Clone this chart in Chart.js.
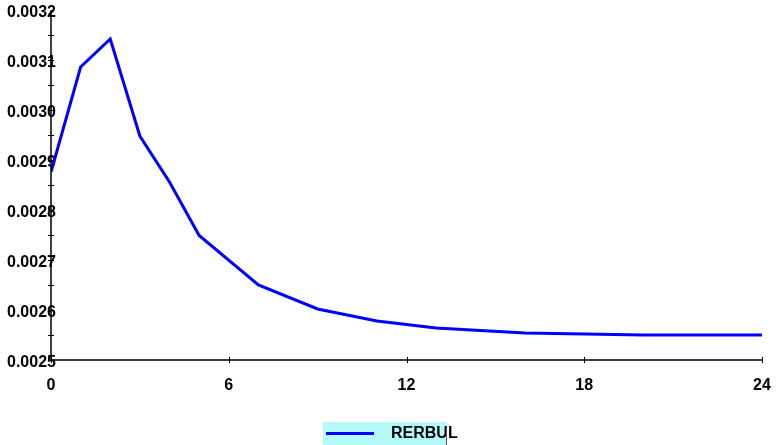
<!DOCTYPE html>
<html>
<head>
<meta charset="utf-8">
<script src="https://cdn.jsdelivr.net/npm/chart.js@4"></script>
<style>
  html, body { margin: 0; padding: 0; background: #ffffff; }
  #wrap { width: 776px; height: 445px; position: relative; }
</style>
</head>
<body>
<div id="wrap"><canvas id="c" width="776" height="445"></canvas></div>
<script>
const seriesName = "RERBUL";
const xValues = [0, 1, 2, 3, 4, 5, 7, 9, 11, 13, 16, 20, 24];
const yValues = [0.002876, 0.003086, 0.003142, 0.002948, 0.002856, 0.002749, 0.00265, 0.002602, 0.002578, 0.002564, 0.002554, 0.00255, 0.00255];
const xTicks = [0, 6, 12, 18, 24];
const yTicks = [0.0025, 0.0026, 0.0027, 0.0028, 0.0029, 0.0030, 0.0031, 0.0032];

const points = xValues.map((x, i) => ({ x: x, y: yValues[i] }));
const FONT = "'Liberation Sans', Arial, Helvetica, sans-serif";

const axisPlugin = {
  id: 'axisPlugin',
  afterDatasetsDraw(chart) {
    const ctx = chart.ctx;
    const xs = chart.scales.x, ys = chart.scales.y;
    const ca = chart.chartArea;
    ctx.save();
    ctx.strokeStyle = '#000';
    ctx.lineWidth = 1.5;
    ctx.beginPath();
    ctx.moveTo(ca.left, ys.getPixelForValue(yTicks[yTicks.length - 1]));
    ctx.lineTo(ca.left, ca.bottom);
    ctx.lineTo(xs.getPixelForValue(xTicks[xTicks.length - 1]), ca.bottom);
    ctx.stroke();
    ctx.lineWidth = 1;
    xTicks.forEach(v => {
      const px = Math.round(xs.getPixelForValue(v)) + 0.5;
      ctx.beginPath();
      ctx.moveTo(px, ca.bottom - 3);
      ctx.lineTo(px, ca.bottom + 3);
      ctx.stroke();
    });
    for (let i = 0; i < yTicks.length - 1; i++) {
      [yTicks[i], (yTicks[i] + yTicks[i + 1]) / 2].forEach(v => {
        const py = Math.round(ys.getPixelForValue(v)) + 0.5;
        ctx.beginPath();
        ctx.moveTo(ca.left - 3, py);
        ctx.lineTo(ca.left + 3, py);
        ctx.stroke();
      });
    }
    ctx.restore();
  },
  afterDraw(chart) {
    const ctx = chart.ctx;
    const ds = chart.data.datasets[0];
    ctx.save();
    ctx.fillStyle = '#b4fafa';
    ctx.fillRect(323, 422, 124, 23);
    ctx.strokeStyle = ds.borderColor;
    ctx.lineWidth = 3;
    ctx.beginPath();
    ctx.moveTo(326, 433.5);
    ctx.lineTo(374, 433.5);
    ctx.stroke();
    ctx.fillStyle = '#000';
    ctx.font = "bold 16px " + FONT;
    ctx.textBaseline = 'middle';
    ctx.textAlign = 'left';
    ctx.fillText(ds.label, 391, 434);
    ctx.strokeStyle = '#555';
    ctx.lineWidth = 1;
    ctx.beginPath();
    ctx.moveTo(446.5, 428);
    ctx.lineTo(446.5, 445);
    ctx.stroke();
    ctx.restore();
  }
};

new Chart(document.getElementById('c'), {
  type: 'line',
  data: {
    datasets: [{
      label: seriesName,
      data: points,
      borderColor: '#0000ff',
      borderWidth: 3,
      pointRadius: 0,
      tension: 0,
      fill: false
    }]
  },
  options: {
    responsive: false,
    animation: false,
    devicePixelRatio: 1,
    layout: { padding: { left: 0, right: 14, top: 10, bottom: 0 } },
    plugins: { legend: { display: false }, tooltip: { enabled: false } },
    scales: {
      x: {
        type: 'linear',
        min: 0, max: 24,
        afterBuildTicks: (s) => { s.ticks = xTicks.map(v => ({ value: v })); },
        afterFit: (s) => { s.height = 85; s.paddingLeft = 0; s.paddingRight = 0; },
        grid: { display: false, drawTicks: false },
        border: { display: false },
        ticks: {
          color: '#000',
          font: { family: FONT, size: 16, weight: 'bold' },
          padding: 16,
          maxRotation: 0,
          callback: (v) => String(v)
        }
      },
      y: {
        type: 'linear',
        min: 0.0025, max: 0.0032,
        afterBuildTicks: (s) => { s.ticks = yTicks.map(v => ({ value: v })); },
        afterFit: (s) => { s.width = 51; s.paddingTop = 0; s.paddingBottom = 0; },
        grid: { display: false, drawTicks: false },
        border: { display: false },
        ticks: {
          color: '#000',
          font: { family: FONT, size: 16, weight: 'bold' },
          mirror: true,
          padding: -44,
          labelOffset: 3,
          callback: (v) => Number(v).toFixed(4)
        }
      }
    }
  },
  plugins: [axisPlugin]
});
</script>
</body>
</html>
